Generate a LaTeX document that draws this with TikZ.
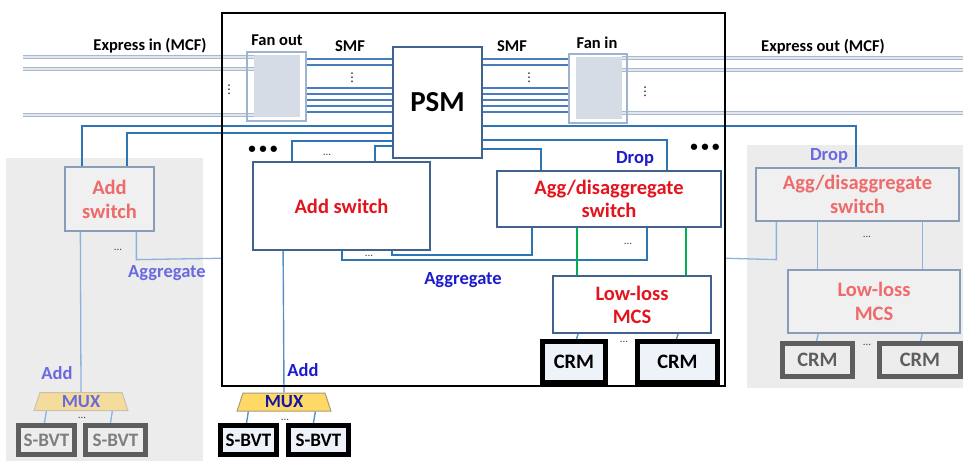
\documentclass[tikz,border=0pt]{standalone}
\usepackage{fontspec}
\setmainfont{Carlito}
\newfontfamily\dejavu{DejaVu Sans}
\usetikzlibrary{shapes.geometric,calc}
\pgfdeclarelayer{panel}
\pgfdeclarelayer{lines}
\pgfsetlayers{panel,lines,main}
\definecolor{boxedge}{HTML}{41628C}
\definecolor{fedge}{HTML}{8A9DB8}
\definecolor{blueline}{HTML}{2E75B6}
\definecolor{fline}{HTML}{8DB3DD}
\definecolor{smfc}{HTML}{4A7EBB}
\definecolor{mcfedge}{HTML}{A9B8CB}
\definecolor{mcffill}{HTML}{E2E7EF}
\definecolor{fanedge}{HTML}{9DB3D0}
\definecolor{fanfill}{HTML}{D6DCE5}
\definecolor{redT}{HTML}{E3141C}
\definecolor{fredT}{HTML}{EF6A6A}
\definecolor{blueT}{HTML}{1C1CCC}
\definecolor{fblueT}{HTML}{6A6AE0}
\definecolor{panelc}{HTML}{ECECEC}
\definecolor{fboxfill}{HTML}{F0F0F0}
\definecolor{crmfill}{HTML}{EEF3FA}
\definecolor{fcrmedge}{HTML}{5E5E5E}
\definecolor{fcrmfill}{HTML}{EDEDED}
\definecolor{greenl}{HTML}{00B050}
\definecolor{muxfill}{HTML}{FFD966}
\definecolor{fmuxfill}{HTML}{F3DC9C}
\definecolor{muxedge}{HTML}{A69A7A}
\definecolor{dotc}{HTML}{404040}
\begin{document}
\begin{tikzpicture}[x=1pt,y=-1pt,
  box/.style={draw=boxedge, line width=1.8pt, fill=white, inner sep=0pt, align=center, text=redT, font=\fontsize{20.5}{23}\selectfont\bfseries},
  fbox/.style={draw=fedge, line width=1.3pt, fill=fboxfill, inner sep=0pt, align=center, text=fredT, font=\fontsize{20.5}{24}\selectfont\bfseries},
  crm/.style={draw=black, line width=5pt, fill=crmfill, inner sep=0pt, font=\fontsize{20.5}{23}\selectfont\bfseries},
  fcrm/.style={draw=fcrmedge, line width=5pt, fill=fcrmfill, inner sep=0pt, text=fcrmedge, font=\fontsize{20.5}{23}\selectfont\bfseries},
  sbvt/.style={draw=black, line width=5pt, fill=crmfill, inner sep=0pt, font=\fontsize{19}{22}\selectfont\bfseries},
  fsbvt/.style={draw=fcrmedge, line width=5pt, fill=fcrmfill, inner sep=0pt, text=fcrmedge!80, font=\fontsize{19}{22}\selectfont\bfseries},
  mux/.style={trapezium, trapezium left angle=77, trapezium right angle=77, trapezium stretches=true, minimum width=94pt, minimum height=18pt, inner sep=0pt, font=\fontsize{18.5}{20}\selectfont\bfseries},
  lbl/.style={font=\fontsize{16.5}{19}\selectfont\bfseries, inner sep=0pt},
  blbl/.style={text=blueT, font=\fontsize{18.5}{21}\selectfont\bfseries, inner sep=0pt},
  fblbl/.style={text=fblueT, font=\fontsize{18.5}{21}\selectfont\bfseries, inner sep=0pt},
  ell/.style={text=dotc, font=\fontsize{11}{11}\selectfont, inner sep=0pt},
  vdot/.style={font=\dejavu\fontsize{12}{12}\selectfont, inner sep=0pt},
  bigdots/.style={font=\fontsize{15}{15}\selectfont\bfseries, inner sep=0pt},
  bl/.style={draw=blueline, line width=1.8pt},
  fl/.style={draw=fline, line width=1.3pt},
  gl/.style={draw=greenl, line width=1.6pt},
  smf/.style={draw=smfc, line width=1.6pt},
  mcf/.style={draw=mcfedge, double=mcffill, double distance=2.6pt, line width=1pt}
]
\useasboundingbox (0,0) rectangle (965,462);

% panels
\begin{pgfonlayer}{panel}
\node[fill=panelc, minimum width=197pt, minimum height=303pt, inner sep=0pt] (panelL) at (104.5,309.5) {};
\node[fill=panelc, minimum width=216pt, minimum height=243pt, inner sep=0pt] (panelR) at (855,266.5) {};
\end{pgfonlayer}

% frame
\node[draw=black, line width=1.5pt, minimum width=503pt, minimum height=373pt, inner sep=0pt] (frame) at (473.5,199.5) {};

% fan out / fan in
\node[draw=fanedge, line width=1.2pt, minimum width=59pt, minimum height=69pt, inner sep=0pt] (fanO) at (276.5,86.5) {};
\node[fill=fanfill, minimum width=46pt, minimum height=62pt, inner sep=0pt] (fanOi) at (277,86) {};
\node[draw=fanedge, line width=1.2pt, minimum width=58pt, minimum height=69pt, inner sep=0pt] (fanI) at (598,88.5) {};
\node[fill=fanfill, minimum width=46pt, minimum height=62pt, inner sep=0pt] (fanIi) at (599,88) {};

% PSM
\node[draw=boxedge, line width=1.8pt, fill=white, minimum width=89pt, minimum height=111pt, inner sep=0pt, font=\fontsize{29}{30}\selectfont\bfseries] (psm) at (437.5,102.5) {PSM};

% main boxes
\node[box, minimum width=177pt, minimum height=88pt] (addM) at (341.5,206) {Add switch};
\node[box, minimum width=224pt, minimum height=56pt] (agg) at (609,199) {Agg/disaggregate\\switch};
\node[box, minimum width=158pt, minimum height=57pt] (mcs) at (632,304.5) {Low-loss\\MCS};
\node[crm, minimum width=63pt, minimum height=41pt] (crmA) at (574,362) {CRM};
\node[crm, minimum width=80pt, minimum height=41pt] (crmB) at (677.5,362) {CRM};
\node[mux, draw=muxedge, line width=1pt, fill=muxfill, text=blueT!80!black] (muxM) at (284,402) {MUX};
\node[sbvt, minimum width=56pt, minimum height=29pt] (sM1) at (248.5,440) {S-BVT};
\node[sbvt, minimum width=60pt, minimum height=29pt] (sM2) at (318.5,440) {S-BVT};

% left faded node
\node[fbox, minimum width=89pt, minimum height=64pt] (addL) at (109.5,199) {Add\\switch};
\node[mux, draw=muxedge!60, line width=1pt, fill=fmuxfill, text=fblueT] (muxL) at (81,401.5) {MUX};
\node[fsbvt, minimum width=56pt, minimum height=29pt] (sL1) at (46.5,440) {S-BVT};
\node[fsbvt, minimum width=60pt, minimum height=29pt] (sL2) at (115.5,440) {S-BVT};

% right faded node
\node[fbox, minimum width=203pt, minimum height=53pt] (aggR) at (857.5,194.5) {Agg/disaggregate\\switch};
\node[fbox, minimum width=172pt, minimum height=63pt] (mcsR) at (874,301.5) {Low-loss\\MCS};
\node[fcrm, minimum width=70pt, minimum height=33pt] (crmR1) at (817.5,360) {CRM};
\node[fcrm, minimum width=81pt, minimum height=33pt] (crmR2) at (920,360) {CRM};

% coordinates for express fibres and SMF
\coordinate (ei1) at (23,57); \coordinate (ei2) at (23,69); \coordinate (ei3) at (23,115);
\coordinate (eo1) at (963,58); \coordinate (eo2) at (963,70); \coordinate (eo3) at (963,113);

\begin{pgfonlayer}{lines}
\foreach \c in {ei1,ei2,ei3} \draw[mcf] (\c) -- (\c -| fanOi.west);
\foreach \c in {eo1,eo2,eo3} \draw[mcf] (fanIi.east |- \c) -- (\c);
\foreach \y [count=\i] in {59,65,88,94,100,106,112} {
  \coordinate (s\i) at (0,\y);
  \draw[smf] (fanO.east |- s\i) -- (psm.west |- s\i);
  \draw[smf] (psm.east |- s\i) -- (fanI.west |- s\i);
}
% add connections to PSM
\draw[bl] ($(addL.north west)+(18,0)$) |- ($(psm.north west)+(0,80)$);
\draw[bl] ($(addL.north west)+(63,0)$) |- ($(psm.north west)+(0,87)$);
\draw[bl] ($(addM.north west)+(40,0)$) |- ($(psm.north west)+(0,95)$);
\draw[bl] ($(addM.north west)+(123,0)$) |- ($(psm.north west)+(0,100)$);
% drop connections from PSM
\draw[bl] ($(psm.north east)+(0,80)$) -| ($(aggR.north west)+(101,0)$);
\draw[bl] ($(psm.north east)+(0,94)$) -| ($(agg.north west)+(171,0)$);
\draw[bl] ($(psm.north east)+(0,103)$) -| ($(agg.north west)+(45,0)$);
% aggregate
\draw[bl] ($(addM.south west)+(140,0)$) -- ++(0,4) -| ($(agg.south west)+(36,0)$);
\draw[bl] ($(addM.south west)+(90,0)$) -- ++(0,9) -| ($(agg.south west)+(151,0)$);
\draw[fl] ($(addL.south west)+(72,0)$) -- ++(0,28) -- ($(frame.north west)+(0,246)$);
\draw[fl] ($(aggR.south west)+(21,0)$) -- ++(0,38) -- ($(frame.north east)+(0,246)$);
% add to mux
\draw[fl] ($(addL.south west)+(16,0)$) -- (muxL.north);
\draw[fl, draw=blueline!80, line width=1.4pt] ($(addM.south west)+(31,0)$) -- (muxM.north);
% agg to mcs
\draw[gl] ($(agg.south west)+(81,0)$) -- ($(mcs.north west)+(25,0)$);
\draw[gl] ($(agg.south west)+(190,0)$) -- ($(mcs.north west)+(134,0)$);
\draw[fl, draw=blueline!80, line width=1.4pt] ($(mcs.south west)+(26,0)$) -- ($(crmA.north west)+(36.5,0)$);
\draw[fl, draw=blueline!80, line width=1.4pt] ($(mcs.south west)+(126,0)$) -- ($(crmB.north west)+(41.5,0)$);
\draw[fl] ($(aggR.south west)+(62,0)$) -- ($(mcsR.north west)+(30,0)$);
\draw[fl] ($(aggR.south west)+(167,0)$) -- ($(mcsR.north west)+(135,0)$);
\draw[fl] ($(mcsR.south west)+(31,0)$) -- ($(crmR1.north west)+(36.5,0)$);
\draw[fl] ($(mcsR.south west)+(135,0)$) -- ($(crmR2.north west)+(43.5,0)$);
% mux to s-bvt
\draw[fl, draw=blueline!80, line width=1.4pt] ($(muxM.bottom left corner)+(12,0)$) -- ($(sM1.north west)+(28.5,0)$);
\draw[fl, draw=blueline!80, line width=1.4pt] ($(muxM.bottom left corner)+(79,0)$) -- ($(sM2.north west)+(27.5,0)$);
\draw[fl] ($(muxL.bottom left corner)+(13,0)$) -- ($(sL1.north west)+(28.5,0)$);
\draw[fl] ($(muxL.bottom left corner)+(79,0)$) -- ($(sL2.north west)+(27.5,0)$);
\end{pgfonlayer}

% labels
\node[lbl] (expin) at (150,46) {Express in (MCF)};
\node[lbl] (expout) at (823,47) {Express out (MCF)};
\node[lbl] (fanoutl) at (277,40) {Fan out};
\node[lbl] (faninl) at (597,43) {Fan in};
\node[lbl] (smf1) at (350,46) {SMF};
\node[lbl] (smf2) at (512,46) {SMF};
\node[vdot] (vd1) at (229,90) {⋮};
\node[vdot] (vd2) at (352,78) {⋮};
\node[vdot] (vd3) at (529,78) {⋮};
\node[vdot] (vd4) at (645,92) {⋮};
\node[bigdots] (bd1) at (263,150) {• • •};
\node[bigdots] (bd2) at (705,148) {• • •};
\node[ell] (e1) at (327,155) {...};
\node[ell] (e2) at (369,256) {...};
\node[ell] (e3) at (628,244) {...};
\node[ell] (e4) at (118,250) {...};
\node[ell] (e5) at (867,237) {...};
\node[ell] (e6) at (624,342) {...};
\node[ell] (e7) at (867,345) {...};
\node[ell] (e8) at (82,418) {...};
\node[ell] (e9) at (285,420) {...};
\node[blbl] (dropM) at (635,159) {Drop};
\node[fblbl] (dropR) at (829,156) {Drop};
\node[blbl] (aggM) at (463,280) {Aggregate};
\node[fblbl] (aggL) at (167,273) {Aggregate};
\node[blbl] (addMl) at (303,370) {Add};
\node[fblbl] (addLl) at (57,373) {Add};
\end{tikzpicture}
\end{document}
